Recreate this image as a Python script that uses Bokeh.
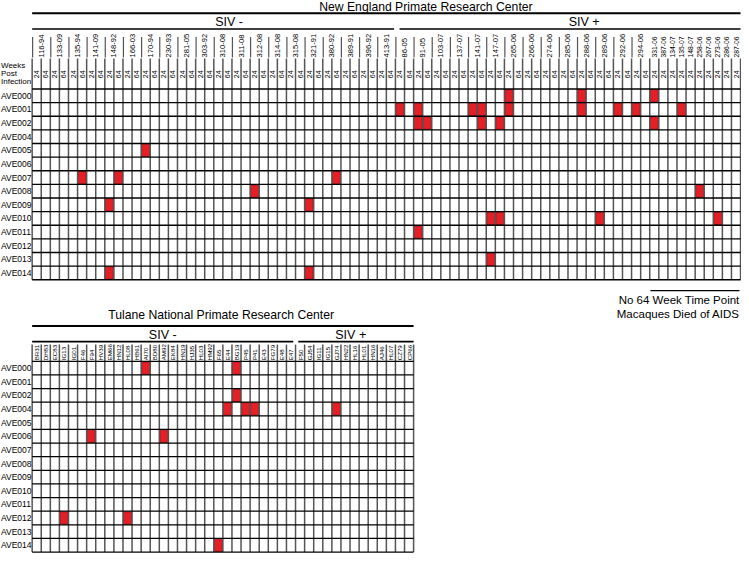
import math
from bokeh.plotting import figure
from bokeh.models import Range1d
from bokeh.core.properties import value
from bokeh.embed import file_html
from bokeh.resources import INLINE

# ---------------- data ----------------
rows = ["AVE000", "AVE001", "AVE002", "AVE004", "AVE005", "AVE006", "AVE007",
        "AVE008", "AVE009", "AVE010", "AVE011", "AVE012", "AVE013", "AVE014"]

neprc_title = "New England Primate Research Center"
tulane_title = "Tulane National Primate Research Center"
group_labels = ["SIV -", "SIV +"]
weeks_label = ["Weeks", "Post", "Infection"]
weeks = ["24", "64"]

neprc_neg = ["116-94", "133-09", "135-94", "141-09", "148-92", "166-03", "170-94",
             "230-93", "281-05", "303-92", "310-08", "311-08", "312-08", "314-08",
             "315-08", "321-91", "380-92", "389-91", "396-92", "413-91"]
neprc_pos_two = ["86-05", "91-05", "103-07", "137-07", "141-07", "147-07", "265-06",
                 "266-06", "274-06", "285-06", "288-06", "289-06", "292-06", "294-06"]
neprc_pos_one = ["331-06", "387-06", "134-07", "135-07", "148-07", "258-06",
                 "267-06", "273-06", "286-06", "287-06"]

tulane_neg = ["BR31", "DH83", "EC83", "IG13", "IG01", "F46", "F94", "HV39", "EM66",
              "HN12", "HL08", "HB61", "AI70", "BD80", "AM92", "EK84", "HN19", "HJ35",
              "HL03", "HM92", "F65", "E44", "BG19", "P45", "P41", "E43", "FG79",
              "E48", "E47"]
tulane_pos = ["F50", "GJ54", "IG11", "IG15", "GJ74", "HN22", "HL16", "HL01", "HN16",
              "AJ46", "HL07", "CZ79", "CP66"]

# positive cells (row, animal, week)
neprc_hits_row = ["AVE005", "AVE007", "AVE007", "AVE007", "AVE008", "AVE009", "AVE009",
                  "AVE014", "AVE014",
                  "AVE000", "AVE000", "AVE000",
                  "AVE001", "AVE001", "AVE001", "AVE001", "AVE001", "AVE001", "AVE001",
                  "AVE001", "AVE001",
                  "AVE002", "AVE002", "AVE002", "AVE002", "AVE002",
                  "AVE008",
                  "AVE010", "AVE010", "AVE010", "AVE010",
                  "AVE011", "AVE013"]
neprc_hits_animal = ["170-94", "135-94", "148-92", "380-92", "312-08", "148-92", "321-91",
                     "148-92", "321-91",
                     "265-06", "288-06", "331-06",
                     "86-05", "91-05", "141-07", "141-07", "265-06", "288-06", "292-06",
                     "294-06", "135-07",
                     "91-05", "91-05", "141-07", "147-07", "331-06",
                     "258-06",
                     "147-07", "147-07", "289-06", "273-06",
                     "91-05", "147-07"]
neprc_hits_week = ["24", "64", "64", "64", "24", "24", "24",
                   "24", "24",
                   "24", "24", "24",
                   "24", "24", "24", "64", "24", "24", "24",
                   "24", "24",
                   "24", "64", "64", "64", "24",
                   "24",
                   "24", "64", "24", "24",
                   "24", "24"]

tulane_hits_row = ["AVE000", "AVE000", "AVE002", "AVE004", "AVE004", "AVE004", "AVE004",
                   "AVE006", "AVE006", "AVE012", "AVE012", "AVE014"]
tulane_hits_animal = ["AI70", "BG19", "BG19", "E44", "P45", "P41", "GJ74",
                      "F94", "AM92", "IG13", "HL08", "F65"]

note_lines = ["No 64 Week Time Point", "Macaques Died of AIDS"]

# ---------------- layout helpers ----------------
PXC, PXR, GX, GY = 9.18, 13.86, 32.0, 90.0


def ux(px):
    return (px - GX) / PXC


def uy(py):
    return (py - GY) / PXR


FONT = value("Liberation Sans")
RED, RED_LINE = "#e41f26", "#b0161c"
VCOL, HCOL = "#555555", "#000000"

p = figure(width=741, height=554, x_range=Range1d(ux(0), ux(749)),
           y_range=Range1d(uy(563.5), uy(0)), toolbar_location=None,
           output_backend="svg", min_border=0, x_axis_location=None,
           y_axis_location=None)
p.xgrid.visible = False
p.ygrid.visible = False
p.outline_line_color = None
p.background_fill_color = "white"

row_idx = {r: i for i, r in enumerate(rows)}
nrows = len(rows)

# ---------------- NEPRC grid ----------------
n_cols = []
for a in neprc_neg + neprc_pos_two:
    for w in weeks:
        n_cols.append((a, w))
for a in neprc_pos_one:
    n_cols.append((a, weeks[0]))
n_idx = {c: i for i, c in enumerate(n_cols)}
NC = len(n_cols)
n_split = 2 * len(neprc_neg)

hx = [n_idx[(a, w)] for a, w in zip(neprc_hits_animal, neprc_hits_week)]
hy = [row_idx[r] for r in neprc_hits_row]
p.quad(left=[c + 0.06 for c in hx], right=[c + 0.94 for c in hx],
       top=[r + 0.05 for r in hy], bottom=[r + 0.95 for r in hy],
       fill_color=RED, line_color=RED_LINE, line_width=1)

# vertical lines
p.segment(x0=list(range(NC + 1)), x1=list(range(NC + 1)),
          y0=[uy(59)] * (NC + 1), y1=[nrows] * (NC + 1),
          line_color=VCOL, line_width=1.5)
# horizontal lines
p.segment(x0=[0] * (nrows + 1), x1=[NC] * (nrows + 1),
          y0=list(range(nrows + 1)), y1=list(range(nrows + 1)),
          line_color=HCOL, line_width=1.3)

# animal labels
two = neprc_neg + neprc_pos_two
lx = [2 * i + 1.0 for i in range(len(two))]
p.text(x=lx, y=[uy(58)] * len(two), text=two, angle=math.pi / 2,
       text_align="left", text_baseline="middle", text_font=FONT,
       text_font_size=value("7.6px"), text_color="black")
p.segment(x0=[2 * i + 0.05 for i in range(len(two))], x1=[2 * i + 0.05 for i in range(len(two))],
          y0=[uy(37)] * len(two), y1=[uy(58)] * len(two), line_color=VCOL, line_width=1.2)
ox = [2 * len(two) + i + 0.5 for i in range(len(neprc_pos_one))]
p.text(x=ox, y=[uy(58)] * len(ox), text=neprc_pos_one, angle=math.pi / 2,
       text_align="left", text_baseline="middle", text_font=FONT,
       text_font_size=value("6.8px"), text_color="black")

# week labels
p.text(x=[i + 0.5 for i in range(NC)], y=[uy(75)] * NC, text=[c[1] for c in n_cols],
       angle=math.pi / 2, text_align="center", text_baseline="middle",
       text_font=FONT, text_font_size=value("7px"), text_color="black")
p.text(x=[ux(0.5)] * 3, y=[uy(66), uy(74), uy(82)], text=weeks_label,
       text_align="left", text_baseline="middle", text_font=FONT,
       text_font_size=value("8px"), text_color="black")

# row labels
p.text(x=[ux(0.5)] * nrows, y=[i + 0.5 for i in range(nrows)], text=rows,
       text_align="left", text_baseline="middle", text_font=FONT,
       text_font_size=value("8.5px"), text_color="black")

# headings
p.segment(x0=[0], x1=[NC], y0=[uy(13)], y1=[uy(13)], line_color="black", line_width=2)
p.segment(x0=[0, n_split + 0.45], x1=[n_split - 0.15, NC], y0=[uy(29)] * 2, y1=[uy(29)] * 2,
          line_color="black", line_width=1.6)
p.text(x=[ux(430)], y=[uy(7)], text=[neprc_title], text_align="center",
       text_baseline="middle", text_font=FONT, text_font_size=value("12.2px"))
p.text(x=[ux(231), ux(590)], y=[uy(22)] * 2, text=group_labels, text_align="center",
       text_baseline="middle", text_font=FONT, text_font_size=value("12.5px"))

# note
p.segment(x0=[ux(657)], x1=[ux(747)], y0=[uy(295)], y1=[uy(295)], line_color="black", line_width=1.2)
p.text(x=[ux(747)] * 2, y=[uy(305), uy(319)], text=note_lines, text_align="right",
       text_baseline="middle", text_font=FONT, text_font_size=value("11.5px"))

# ---------------- Tulane grid ----------------
B0 = uy(367)
t_cols = tulane_neg + tulane_pos
t_idx = {a: i for i, a in enumerate(t_cols)}
TC = len(t_cols)
t_split = len(tulane_neg)

tx = [t_idx[a] for a in tulane_hits_animal]
ty = [B0 + row_idx[r] for r in tulane_hits_row]
p.quad(left=[c + 0.06 for c in tx], right=[c + 0.94 for c in tx],
       top=[r + 0.05 for r in ty], bottom=[r + 0.95 for r in ty],
       fill_color=RED, line_color=RED_LINE, line_width=1)

p.segment(x0=list(range(TC + 1)), x1=list(range(TC + 1)),
          y0=[uy(350)] * (TC + 1), y1=[B0 + nrows] * (TC + 1),
          line_color=VCOL, line_width=1.5)
p.segment(x0=[0] * (nrows + 1), x1=[TC] * (nrows + 1),
          y0=[B0 + i for i in range(nrows + 1)], y1=[B0 + i for i in range(nrows + 1)],
          line_color=HCOL, line_width=1.3)

p.text(x=[i + 0.5 for i in range(TC)], y=[uy(366)] * TC, text=t_cols, angle=math.pi / 2,
       text_align="left", text_baseline="middle", text_font=FONT,
       text_font_size=value("6.2px"), text_color="black")
p.text(x=[ux(0.5)] * nrows, y=[B0 + i + 0.5 for i in range(nrows)], text=rows,
       text_align="left", text_baseline="middle", text_font=FONT,
       text_font_size=value("8.5px"), text_color="black")

p.segment(x0=[0], x1=[TC], y0=[uy(331)], y1=[uy(331)], line_color="black", line_width=2)
p.segment(x0=[0, t_split + 0.3], x1=[t_split - 0.25, TC], y0=[uy(347)] * 2, y1=[uy(347)] * 2,
          line_color="black", line_width=1.6)
p.text(x=[ux(223)], y=[uy(320)], text=[tulane_title], text_align="center",
       text_baseline="middle", text_font=FONT, text_font_size=value("12.2px"))
p.text(x=[ux(164), ux(354)], y=[uy(340)] * 2, text=group_labels, text_align="center",
       text_baseline="middle", text_font=FONT, text_font_size=value("12.5px"))

open("out.html", "w").write(file_html(p, INLINE))
